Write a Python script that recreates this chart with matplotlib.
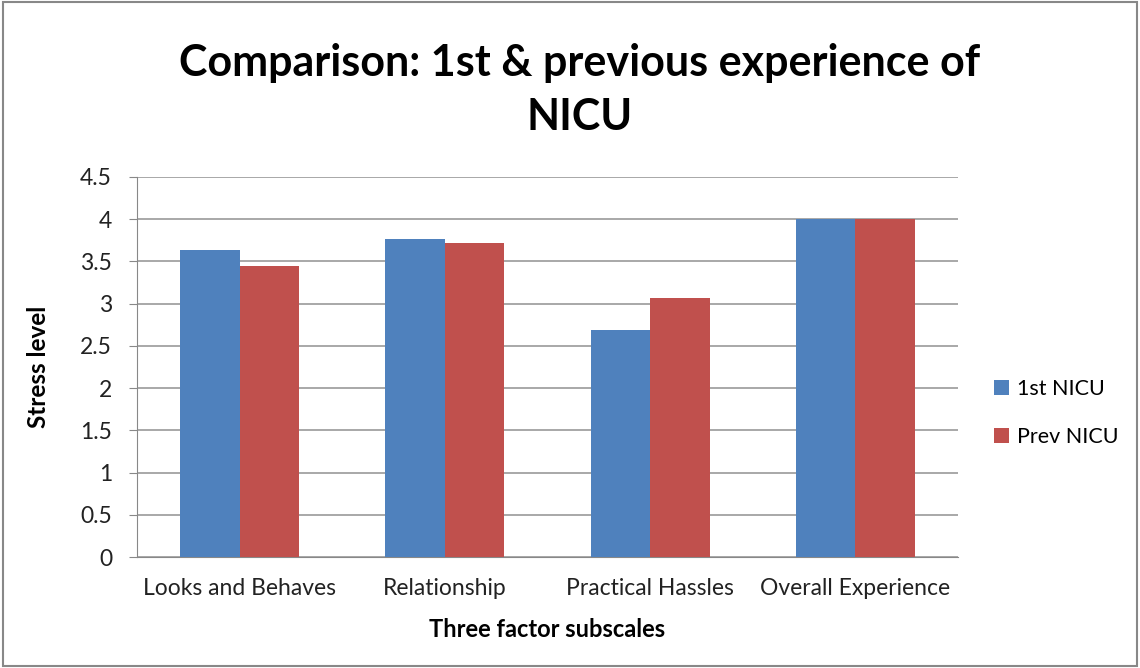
import matplotlib.pyplot as plt
import numpy as np
from matplotlib.patches import Rectangle

plt.rcParams['font.family'] = ['Lato', 'DejaVu Sans']

# DATA
categories = ['Looks and Behaves', 'Relationship', 'Practical Hassles', 'Overall Experience']
first_nicu = [3.63, 3.76, 2.69, 4.0]
prev_nicu = [3.45, 3.72, 3.07, 4.0]
series_names = ['1st NICU', 'Prev NICU']

blue = '#4f81bd'
red = '#c0504d'

fig = plt.figure(figsize=(11.4, 6.68), dpi=100)
ax = fig.add_axes([137 / 1140, 1 - 557 / 668, (958 - 137) / 1140, (557 - 177) / 668])

x = np.arange(len(categories))
w = 0.29
ax.bar(x - w / 2, first_nicu, w, color=blue, label=series_names[0], zorder=3)
ax.bar(x + w / 2, prev_nicu, w, color=red, label=series_names[1], zorder=3)

ax.set_xlim(-0.5, len(categories) - 0.5)
ax.set_ylim(0, 4.5)
ax.set_yticks(np.arange(0, 4.51, 0.5))
ax.set_yticklabels(['0', '0.5', '1', '1.5', '2', '2.5', '3', '3.5', '4', '4.5'])
ax.set_xticks(x)
ax.set_xticklabels(categories)
ax.tick_params(axis='x', labelsize=16.5, colors='#222222', length=0, pad=15)
ax.tick_params(axis='y', labelsize=16.5, colors='#222222', length=6, color='#888888',
               direction='out', pad=12)
ax.yaxis.grid(True, color='#999999', linewidth=1.2, zorder=0)

for side in ['top', 'right']:
    ax.spines[side].set_visible(False)
ax.spines['left'].set_color('#888888')
ax.spines['bottom'].set_color('#888888')

ax.set_ylabel('Stress level', fontsize=17.5, fontweight='bold', labelpad=22)
ax.set_xlabel('Three factor subscales', fontsize=17, fontweight='bold', labelpad=14)

fig.text(580 / 1140, 1 - 90 / 668, 'Comparison: 1st & previous experience of\nNICU',
         ha='center', va='center', fontsize=31, fontweight='bold', linespacing=1.42)

ax.legend(loc='center left', bbox_to_anchor=(1.02, 0.38), frameon=False,
          fontsize=15.5, handlelength=0.7, handleheight=0.7, labelspacing=1.3,
          handletextpad=0.4)

# outer frame
fig.patches.append(Rectangle((0.003, 0.003), 0.994, 0.994, transform=fig.transFigure,
                             fill=False, edgecolor='#888888', linewidth=1.5))

fig.savefig('out.png', dpi=100)
